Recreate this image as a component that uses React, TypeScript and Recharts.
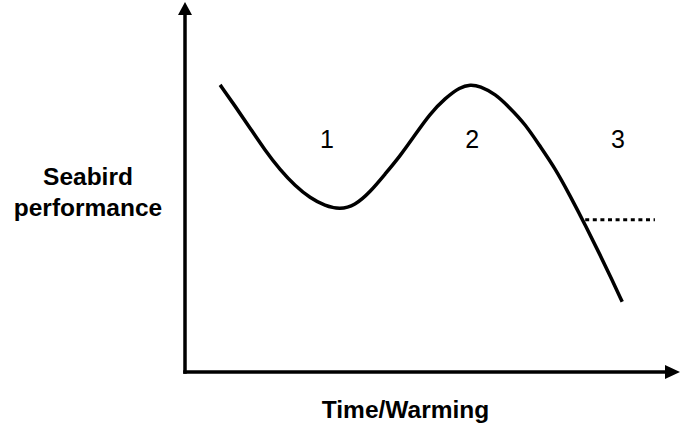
import React from "react";
import {
  ComposedChart,
  Line,
  XAxis,
  YAxis,
  ReferenceLine,
  ReferenceDot,
  Scatter,
} from "recharts";

// Conceptual curve: seabird performance over time/warming (0-100 units)
const time = [7.3, 10.4, 13.5, 16.6, 19.8, 22.9, 26.0, 29.1, 32.2, 35.3, 38.5, 41.6, 44.7, 47.8, 50.9, 54.1, 57.2, 59.3, 61.3, 64.5, 67.6, 70.7, 73.8, 76.9, 80.0, 83.2, 86.3, 88.8, 90.9];
const performance = [80.2, 74.3, 68.2, 62.0, 56.4, 52.0, 48.6, 46.4, 45.4, 46.5, 50.3, 55.3, 60.3, 66.2, 72.1, 76.5, 79.6, 80.3, 79.9, 77.7, 73.7, 69.3, 63.1, 57.0, 49.4, 41.1, 32.7, 25.7, 19.6];

// Phase labels
const phaseLabels = ["1", "2", "3"];
const phaseX = [29.5, 59.7, 90.0];
const phaseY = [62.6, 62.6, 62.6];

// Threshold (dotted) line
const thresholdStart = 83.2;
const thresholdEnd = 97.7;
const thresholdLevel = 42.5;

const yLabelLines = ["Seabird", "performance"];
const xLabelText = "Time/Warming";

const curveData = time.map((t, i) => ({ x: t, y: performance[i] }));
const phaseData = phaseLabels.map((l, i) => ({ x: phaseX[i], y: phaseY[i], label: l }));

const FONT = "Arial, 'Liberation Sans', sans-serif";

const UpArrow = (props: any) => {
  const { cx, cy } = props;
  return <polygon points={`${cx},${cy - 12} ${cx - 7},${cy + 1} ${cx + 7},${cy + 1}`} fill="#000" />;
};

const RightArrow = (props: any) => {
  const { cx, cy } = props;
  return <polygon points={`${cx + 14},${cy} ${cx - 1},${cy - 7} ${cx - 1},${cy + 7}`} fill="#000" />;
};

const PhaseText = (props: any) => {
  const { cx, cy, payload } = props;
  return (
    <text x={cx} y={cy} textAnchor="middle" fontFamily={FONT} fontSize={25} fill="#000">
      {payload.label}
    </text>
  );
};

const YLabel = (props: any) => {
  const vb = props.viewBox || {};
  const cx = vb.x + vb.width / 2 - 4.5;
  const cy = vb.y + vb.height / 2;
  return (
    <text textAnchor="middle" fontFamily={FONT} fontSize={24.5} fontWeight="bold" fill="#000">
      <tspan x={cx} y={cy - 8}>{yLabelLines[0]}</tspan>
      <tspan x={cx} y={cy + 23}>{yLabelLines[1]}</tspan>
    </text>
  );
};

const XLabel = (props: any) => {
  const vb = props.viewBox || {};
  const cx = vb.x + vb.width / 2 - 20;
  const y = vb.y + 46;
  return (
    <text x={cx} y={y} textAnchor="middle" fontFamily={FONT} fontSize={24.5} fontWeight="bold" fill="#000">
      {xLabelText}
    </text>
  );
};

export default function App() {
  return (
    <div style={{ position: "absolute", left: 0, top: 0, width: 680, height: 430, background: "#fff" }}>
      <ComposedChart width={680} height={430} margin={{ top: 14, right: 14, bottom: 0, left: 0 }}>
        <XAxis
          type="number"
          dataKey="x"
          domain={[0, 100]}
          allowDataOverflow
          height={58}
          tick={false}
          tickLine={false}
          axisLine={{ stroke: "#000", strokeWidth: 3.5, strokeLinecap: "square" } as any}
          label={<XLabel />}
        />
        <YAxis
          type="number"
          dataKey="y"
          domain={[0, 100]}
          allowDataOverflow
          width={185}
          tick={false}
          tickLine={false}
          axisLine={{ stroke: "#000", strokeWidth: 3.5, strokeLinecap: "square" } as any}
          label={<YLabel />}
        />
        <Line
          data={curveData}
          dataKey="y"
          type="basis"
          stroke="#000"
          strokeWidth={3.5}
          dot={false}
          activeDot={false}
          isAnimationActive={false}
        />
        <ReferenceLine
          segment={[
            { x: thresholdStart, y: thresholdLevel },
            { x: thresholdEnd, y: thresholdLevel },
          ]}
          stroke="#000"
          strokeWidth={3}
          strokeDasharray="4 3.6"
          ifOverflow="visible"
        />
        <Scatter data={phaseData} dataKey="y" shape={<PhaseText />} isAnimationActive={false} />
        <ReferenceDot x={0} y={100} r={0} shape={<UpArrow />} ifOverflow="visible" />
        <ReferenceDot x={100} y={0} r={0} shape={<RightArrow />} ifOverflow="visible" />
      </ComposedChart>
    </div>
  );
}
